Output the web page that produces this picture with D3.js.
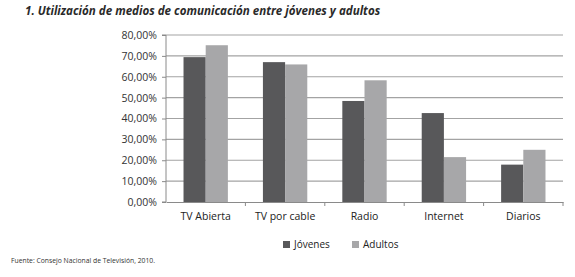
<!DOCTYPE html>
<html>
<head>
<meta charset="utf-8">
<script src="https://cdn.jsdelivr.net/npm/d3@7"></script>
<style>
  body { margin: 0; background: #fff; }
  svg { display: block; font-family: 'Open Sans', sans-serif; }
</style>
</head>
<body>
<div id="chart"></div>
<script>
const categories = ['TV Abierta', 'TV por cable', 'Radio', 'Internet', 'Diarios'];
const series = ['Jóvenes', 'Adultos'];
const jovenes = [69.4, 67.0, 48.4, 42.6, 17.9];
const adultos = [75.1, 65.9, 58.3, 21.5, 25.0];
const yTicks = [0, 10, 20, 30, 40, 50, 60, 70, 80];

const colors = {'Jóvenes': '#58585a', 'Adultos': '#a7a7a9'};

const width = 575;
const height = 277;
const plot = {left: 166, right: 563, top: 35, bottom: 202};

const svg = d3.select('#chart').append('svg')
  .attr('width', width)
  .attr('height', height);

// Título
svg.append('text')
  .attr('x', 25)
  .attr('y', 15)
  .attr('font-size', 11.6)
  .attr('font-weight', 'bold')
  .attr('font-style', 'italic')
  .attr('fill', '#2a2a2a')
  .text('1. Utilización de medios de comunicación entre jóvenes y adultos');

const x = d3.scaleBand()
  .domain(categories)
  .range([plot.left, plot.right]);

const xSub = d3.scaleBand()
  .domain(series)
  .range([0, x.bandwidth()])
  .paddingOuter(0.79);

const y = d3.scaleLinear()
  .domain([0, 80])
  .range([plot.bottom, plot.top]);

// Líneas de cuadrícula
svg.append('g')
  .selectAll('line')
  .data(yTicks.slice(1))
  .enter()
  .append('line')
  .attr('x1', plot.left)
  .attr('x2', plot.right)
  .attr('y1', d => y(d))
  .attr('y2', d => y(d))
  .attr('stroke', '#a3a3a3')
  .attr('stroke-width', 1.2);

// Barras
const data = [];
categories.forEach((c, i) => {
  data.push({cat: c, serie: 'Jóvenes', value: jovenes[i]});
  data.push({cat: c, serie: 'Adultos', value: adultos[i]});
});

svg.append('g')
  .selectAll('rect')
  .data(data)
  .enter()
  .append('rect')
  .attr('x', d => x(d.cat) + xSub(d.serie))
  .attr('y', d => y(d.value))
  .attr('width', xSub.bandwidth())
  .attr('height', d => y(0) - y(d.value))
  .attr('fill', d => colors[d.serie]);

// Eje Y
const yAxis = svg.append('g')
  .attr('transform', `translate(${plot.left},0)`)
  .call(d3.axisLeft(y)
    .tickValues(yTicks)
    .tickSize(4)
    .tickFormat(d => d3.format('.2f')(d).replace('.', ',') + '%'));
yAxis.select('.domain').attr('stroke', '#8a8a8a').attr('d', `M-4,${plot.bottom}H0V${plot.top}H-4`);
yAxis.selectAll('.tick line').attr('stroke', '#8a8a8a');
yAxis.selectAll('.tick text')
  .attr('x', -9)
  .attr('font-size', 10.5)
  .attr('font-family', "'Open Sans', sans-serif")
  .attr('fill', '#333');

// Eje X
const xAxis = svg.append('g')
  .attr('transform', `translate(0,${plot.bottom})`)
  .call(d3.axisBottom(x).tickSize(0).tickSizeOuter(0));
xAxis.select('.domain').attr('stroke', '#8a8a8a');
xAxis.selectAll('.tick text')
  .attr('y', 11)
  .attr('font-size', 10.5)
  .attr('font-family', "'Open Sans', sans-serif")
  .attr('fill', '#222');

// Marcas entre categorías
svg.append('g')
  .selectAll('line')
  .data(categories.slice(1).concat(['end']))
  .enter()
  .append('line')
  .attr('x1', d => d === 'end' ? plot.right : x(d))
  .attr('x2', d => d === 'end' ? plot.right : x(d))
  .attr('y1', plot.bottom)
  .attr('y2', plot.bottom + 4)
  .attr('stroke', '#8a8a8a');

// Leyenda
const legend = svg.append('g').attr('class', 'legend');
const legendX = [283, 352];
series.forEach((s, i) => {
  legend.append('rect')
    .attr('x', legendX[i])
    .attr('y', 241)
    .attr('width', 7)
    .attr('height', 7)
    .attr('fill', colors[s]);
  legend.append('text')
    .attr('x', legendX[i] + 11)
    .attr('y', 245)
    .attr('dominant-baseline', 'middle')
    .attr('font-size', 10)
    .attr('fill', '#222')
    .text(s);
});

// Fuente
svg.append('text')
  .attr('x', 11)
  .attr('y', 263)
  .attr('font-size', 6.8)
  .attr('fill', '#333')
  .text('Fuente: Consejo Nacional de Televisión, 2010.');
</script>
</body>
</html>
